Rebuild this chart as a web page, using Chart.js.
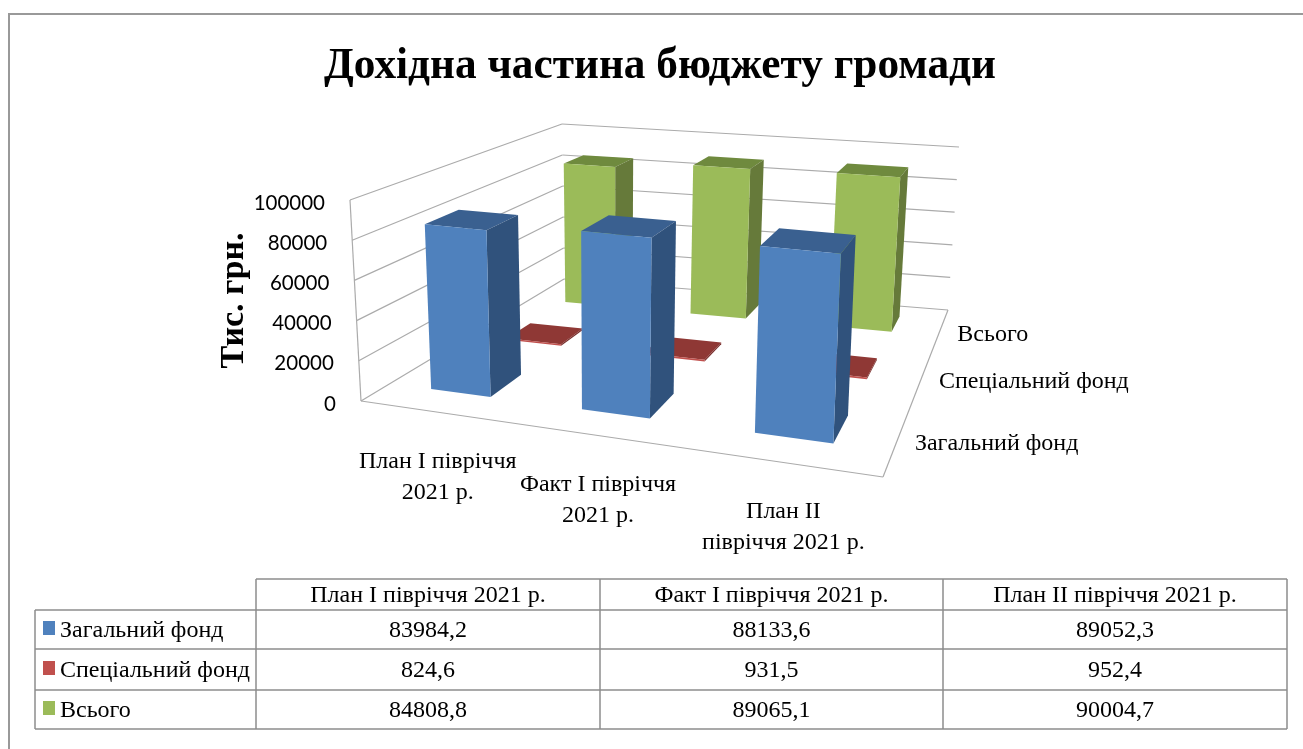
<!DOCTYPE html>
<html><head><meta charset="utf-8">
<script src="https://cdn.jsdelivr.net/npm/chart.js@4"></script>
<style>html,body{margin:0;padding:0;background:#fff}canvas{display:block;filter:blur(0.45px)}#w{width:1303px;height:749px;position:relative;overflow:hidden}</style>
</head><body><div id="w"><canvas id="c" width="1303" height="749"></canvas></div>
<script>
const categories = ["План І півріччя 2021 р.", "Факт І півріччя 2021 р.", "План ІІ півріччя 2021 р."];
const axisCategoryLines = [["План І півріччя", "2021 р."], ["Факт І півріччя", "2021 р."], ["План ІІ", "півріччя 2021 р."]];
const seriesNames = ["Загальний фонд", "Спеціальний фонд", "Всього"];
const generalFund = [83984.2, 88133.6, 89052.3];
const specialFund = [824.6, 931.5, 952.4];
const totalFund = [84808.8, 89065.1, 90004.7];
const chartTitle = "Дохідна частина бюджету громади";
const valueAxisTitle = "Тис. грн.";
const front = ["#4F81BD", "#C0504D", "#9BBB59"];
const side = ["#30527C", "#7A2F2D", "#667A3A"];
const top3 = ["#3A6090", "#8F3835", "#6F8A3E"];
const SERIF = '"Liberation Serif"';

function homography(p0, p1, p2, p3) {
  const dx1 = p1[0] - p2[0], dx2 = p3[0] - p2[0], sx = p0[0] - p1[0] + p2[0] - p3[0];
  const dy1 = p1[1] - p2[1], dy2 = p3[1] - p2[1], sy = p0[1] - p1[1] + p2[1] - p3[1];
  const den = dx1 * dy2 - dx2 * dy1;
  const g = (sx * dy2 - dx2 * sy) / den, h = (dx1 * sy - sx * dy1) / den;
  const a = p1[0] - p0[0] + g * p1[0], b = p3[0] - p0[0] + h * p3[0], c = p0[0];
  const d = p1[1] - p0[1] + g * p1[1], e = p3[1] - p0[1] + h * p3[1], f = p0[1];
  return (u, w) => { const q = g * u + h * w + 1; return [(a * u + b * w + c) / q, (d * u + e * w + f) / q]; };
}
const floorMap = homography([361, 401], [883, 477], [948, 310], [564, 279]);
const roofMap = homography([350, 200], [893, 252], [959, 147], [562, 124]);
function project(u, h, w) {
  const a = floorMap(u, w), b = roofMap(u, w);
  return [a[0] + (b[0] - a[0]) * h, a[1] + (b[1] - a[1]) * h];
}
const rowDepths = [[0.108, 0.246], [0.4525, 0.5775], [0.786, 0.911]];
function poly(ctx, pts, color) {
  ctx.beginPath();
  pts.forEach((p, i) => i ? ctx.lineTo(p[0], p[1]) : ctx.moveTo(p[0], p[1]));
  ctx.closePath(); ctx.fillStyle = color; ctx.fill();
}
function line(ctx, a, b) { ctx.beginPath(); ctx.moveTo(a[0], a[1]); ctx.lineTo(b[0], b[1]); ctx.stroke(); }

const scene3d = {
  id: "scene3d",
  beforeDatasetsDraw(chart) {
    const ctx = chart.ctx, xs = chart.scales.x, ys = chart.scales.y, area = chart.chartArea;
    const U = x => (x - area.left) / (area.right - area.left);
    const H = px => (area.bottom - px) / (area.bottom - area.top);
    ctx.save();
    // outer frame
    ctx.strokeStyle = "#999999"; ctx.lineWidth = 2;
    ctx.beginPath(); ctx.moveTo(9, 749); ctx.lineTo(9, 14); ctx.lineTo(1303, 14); ctx.stroke();
    // walls
    ctx.strokeStyle = "#ABABAB"; ctx.lineWidth = 1.2;
    ys.ticks.forEach(t => {
      const h = H(ys.getPixelForValue(t.value));
      const a = project(0, h, 0), b = project(0, h, 1), c = project(1, h, 1);
      line(ctx, a, b); line(ctx, b, c);
    });
    line(ctx, project(0, 0, 0), project(0, 1, 0));
    line(ctx, project(0, 0, 0), project(1, 0, 0));
    line(ctx, project(1, 0, 0), project(1, 0, 1));
    // bars, back row first
    for (let di = chart.data.datasets.length - 1; di >= 0; di--) {
      const w0 = rowDepths[di][0], w1 = rowDepths[di][1];
      chart.getDatasetMeta(di).data.forEach(el => {
        const p = el.getProps(["x", "y", "base", "width"], true);
        const u0 = U(p.x - p.width / 2), u1 = U(p.x + p.width / 2), h = H(p.y);
        poly(ctx, [project(u0, h, w0), project(u1, h, w0), project(u1, h, w1), project(u0, h, w1)], top3[di]);
        poly(ctx, [project(u1, 0, w0), project(u1, 0, w1), project(u1, h, w1), project(u1, h, w0)], side[di]);
        poly(ctx, [project(u0, 0, w0), project(u1, 0, w0), project(u1, h, w0), project(u0, h, w0)], front[di]);
      });
    }
    // value tick labels
    ctx.fillStyle = "#000"; ctx.font = '20.5px Lato'; ctx.textAlign = "right"; ctx.textBaseline = "middle";
    ys.ticks.forEach(t => {
      const h = H(ys.getPixelForValue(t.value));
      const a = project(0, h, 0);
      ctx.fillText(String(t.value), a[0] - 25, a[1] + 3);
    });
    // category labels
    ctx.font = "24px " + SERIF; ctx.textAlign = "center";
    axisCategoryLines.forEach((lines, i) => {
      const a = project(U(xs.getPixelForTick(i)), 0, 0);
      lines.forEach((s, j) => ctx.fillText(s, a[0] + 4.5, a[1] + 50 + j * 31));
    });
    // depth labels
    ctx.textAlign = "left";
    seriesNames.forEach((s, i) => {
      const a = project(1, 0, (i + 0.5) / 3);
      ctx.fillText(s, a[0] + 17, a[1] + 5);
    });
    // data table
    const X = [35, 256, 600, 943, 1287], Y = [579, 610, 649, 690, 729];
    ctx.strokeStyle = "#8C8C8C"; ctx.lineWidth = 1.5;
    Y.forEach((y, i) => line(ctx, [i === 0 ? X[1] : X[0], y], [X[4], y]));
    X.forEach((x, i) => line(ctx, [x, i === 0 ? Y[1] : Y[0]], [x, Y[4]]));
    ctx.textAlign = "center"; ctx.fillStyle = "#000";
    categories.forEach((s, i) => ctx.fillText(s, (X[i + 1] + X[i + 2]) / 2, 596));
    const rows = chart.data.datasets;
    rows.forEach((ds, r) => {
      const cy = (Y[r + 1] + Y[r + 2]) / 2;
      ctx.fillStyle = front[r]; ctx.fillRect(43, cy - 7.5 - 1, 12, 14);
      ctx.fillStyle = "#000"; ctx.textAlign = "left";
      ctx.fillText(ds.label, 60, cy + 1.5);
      ctx.textAlign = "center";
      ds.data.forEach((v, i) => ctx.fillText(v.toFixed(1).replace(".", ","), (X[i + 1] + X[i + 2]) / 2, cy + 1.5));
    });
    ctx.restore();
    return false;
  }
};

new Chart(document.getElementById("c"), {
  type: "bar",
  plugins: [scene3d],
  data: {
    labels: categories,
    datasets: [
      { label: seriesNames[0], data: generalFund, backgroundColor: front[0] },
      { label: seriesNames[1], data: specialFund, backgroundColor: front[1] },
      { label: seriesNames[2], data: totalFund, backgroundColor: front[2] }
    ]
  },
  options: {
    responsive: false, animation: false,
    layout: { padding: { left: 217, right: 200, top: 0, bottom: 348 } },
    datasets: { bar: { grouped: false, categoryPercentage: 1, barPercentage: 0.41 } },
    plugins: {
      legend: { display: false }, tooltip: { enabled: false },
      title: { display: true, text: chartTitle, color: "#000", font: { family: SERIF, size: 43.3, weight: "bold", lineHeight: 1.2 }, padding: { top: 41, bottom: 107 } }
    },
    scales: {
      x: { grid: { display: false }, border: { display: false }, ticks: { display: false }, afterFit: s => { s.height = 0; } },
      y: {
        min: 0, max: 100000, grid: { display: false }, border: { display: false },
        ticks: { display: false, stepSize: 20000 },
        title: { display: true, text: valueAxisTitle, color: "#000", font: { family: SERIF, size: 34, weight: "bold", lineHeight: 1 }, padding: 0 },
        afterFit: s => { s.width = 361 - 217; }
      }
    }
  }
});
</script></body></html>
